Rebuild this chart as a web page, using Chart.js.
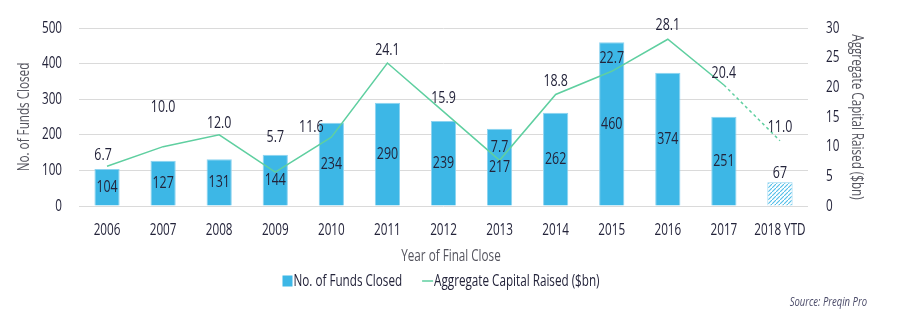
<!DOCTYPE html>
<html>
<head>
<meta charset="utf-8">
<script src="https://cdn.jsdelivr.net/npm/chart.js@4.4.1/dist/chart.umd.min.js"></script>
<style>
  html, body { margin: 0; padding: 0; background: #fff; }
</style>
</head>
<body>
<canvas id="myChart" width="901" height="329"></canvas>
<script>
const years = ["2006", "2007", "2008", "2009", "2010", "2011", "2012", "2013", "2014", "2015", "2016", "2017", "2018 YTD"];
const fundsClosed = [104, 127, 131, 144, 234, 290, 239, 217, 262, 460, 374, 251, 67];
const capitalRaised = [6.7, 10.0, 12.0, 5.7, 11.6, 24.1, 15.9, 7.7, 18.8, 22.7, 28.1, 20.4, 11.0];

const FONT = '"Open Sans", "Noto Sans", sans-serif';
const TEXT = "#23233a";
const TITLE = "#55555f";
const BLUE = "#3db7e6";
const GREEN = "#5fcfa0";

// the original uses a condensed face; squeeze text horizontally
const canvas = document.getElementById("myChart");
const c2 = canvas.getContext("2d");
const SX = 0.73;
const rawFill = c2.fillText.bind(c2);
const rawMeasure = c2.measureText.bind(c2);
c2.fillText = function (t, x, y) {
  this.save();
  this.translate(x, y);
  this.scale(SX, 1);
  rawFill(t, 0, 0);
  this.restore();
};
c2.measureText = function (t) {
  const m = rawMeasure(t);
  return {
    width: m.width * SX,
    actualBoundingBoxAscent: m.actualBoundingBoxAscent,
    actualBoundingBoxDescent: m.actualBoundingBoxDescent,
    actualBoundingBoxLeft: m.actualBoundingBoxLeft * SX,
    actualBoundingBoxRight: m.actualBoundingBoxRight * SX,
  };
};

// hatch for the partial year bar
function hatch() {
  const c = document.createElement("canvas");
  c.width = 4; c.height = 4;
  const g = c.getContext("2d");
  g.fillStyle = "#ffffff";
  g.fillRect(0, 0, 4, 4);
  g.strokeStyle = "#4fbde8";
  g.lineWidth = 1.1;
  g.beginPath();
  g.moveTo(-1, 5); g.lineTo(5, -1);
  g.stroke();
  return g.createPattern(c, "repeat");
}
const hatchPattern = hatch();

// label offsets for the line values
const lineLabelDy = [-11, -40, -12, -35, -10, -13, -14, -13, -13, -13, -14, -12, -14];
const lineLabelDx = [-4, 0, 0, 0, -20, 0, 0, 0, 0, 0, 0, 0, 0];

const valueLabels = {
  id: "valueLabels",
  afterDatasetsDraw(chart) {
    const { ctx } = chart;
    ctx.save();
    ctx.font = "17px " + FONT;
    ctx.fillStyle = TEXT;
    ctx.textAlign = "center";
    ctx.textBaseline = "middle";
    const bars = chart.getDatasetMeta(0).data;
    bars.forEach((bar, i) => {
      let y = (bar.y + bar.base) / 2;
      if (i === bars.length - 1) y = bar.y - 9;
      ctx.fillText(fundsClosed[i], bar.x, y);
    });
    chart.getDatasetMeta(1).data.forEach((pt, i) => {
      ctx.fillText(capitalRaised[i].toFixed(1), pt.x + lineLabelDx[i], pt.y + lineLabelDy[i]);
    });
    ctx.restore();
  },
};

// axis titles, legend and source
const extras = {
  id: "extras",
  afterDraw(chart) {
    const { ctx, chartArea: { top, bottom } } = chart;
    const midY = (top + bottom) / 2;
    ctx.save();
    ctx.textBaseline = "middle";
    ctx.textAlign = "center";
    ctx.font = "16px " + FONT;
    ctx.fillStyle = TITLE;

    ctx.save();
    ctx.translate(24, midY);
    ctx.rotate(-Math.PI / 2);
    ctx.fillText("No. of Funds Closed", 0, 0);
    ctx.restore();

    ctx.save();
    ctx.translate(857, midY);
    ctx.rotate(Math.PI / 2);
    ctx.fillText("Aggregate Capital Raised ($bn)", 0, 0);
    ctx.restore();

    ctx.fillText("Year of Final Close", 451, 256);

    // legend
    ctx.font = "16px " + FONT;
    ctx.fillStyle = TEXT;
    ctx.textAlign = "left";
    const t1 = "No. of Funds Closed";
    const t2 = "Aggregate Capital Raised ($bn)";
    const w1 = ctx.measureText(t1).width;
    const w2 = ctx.measureText(t2).width;
    const total = 11 + w1 + 20 + 12 + w2;
    let x = 441 - total / 2;
    const ly = 281;
    ctx.fillStyle = BLUE;
    ctx.fillRect(x, ly - 5.5, 10, 11);
    ctx.fillStyle = TEXT;
    ctx.fillText(t1, x + 11, ly);
    x += 11 + w1 + 20;
    ctx.strokeStyle = GREEN;
    ctx.lineWidth = 1.5;
    ctx.beginPath();
    ctx.moveTo(x, ly);
    ctx.lineTo(x + 11, ly);
    ctx.stroke();
    ctx.fillText(t2, x + 12, ly);

    // source
    ctx.font = "italic 13px " + FONT;
    ctx.fillStyle = "#4a4a68";
    ctx.textAlign = "right";
    ctx.fillText("Source: Preqin Pro", 867, 302);
    ctx.restore();
  },
};

const config = {
  type: "bar",
  data: {
    labels: years,
    datasets: [
      {
        label: "No. of Funds Closed",
        data: fundsClosed,
        backgroundColor: (ctx) => (ctx.dataIndex === years.length - 1 ? hatchPattern : BLUE),
        borderColor: "#8cd3f0",
        borderWidth: 1,
        yAxisID: "y",
        categoryPercentage: 1,
        barPercentage: 0.45,
        order: 2,
      },
      {
        type: "line",
        label: "Aggregate Capital Raised ($bn)",
        data: capitalRaised,
        borderColor: GREEN,
        backgroundColor: GREEN,
        borderWidth: 1.5,
        pointRadius: 0,
        tension: 0,
        yAxisID: "y1",
        order: 1,
        segment: {
          borderDash: (ctx) => (ctx.p1DataIndex === years.length - 1 ? [3, 3] : undefined),
        },
      },
    ],
  },
  options: {
    responsive: false,
    animation: false,
    layout: { padding: { top: 28, left: 0, right: 0, bottom: 0 } },
    scales: {
      x: {
        grid: { display: false },
        border: { display: false },
        ticks: { color: TEXT, font: { family: FONT, size: 16 }, padding: 7, maxRotation: 0, autoSkip: false },
        afterFit: (s) => { s.height = 123; },
      },
      y: {
        min: 0,
        max: 500,
        ticks: { stepSize: 100, color: TEXT, font: { family: FONT, size: 16 }, padding: 17 },
        grid: { color: "#dadada", drawTicks: false },
        border: { display: false },
        afterFit: (s) => { s.width = 79; },
      },
      y1: {
        position: "right",
        min: 0,
        max: 30,
        ticks: { stepSize: 5, color: TEXT, font: { family: FONT, size: 16 }, padding: 18 },
        grid: { display: false, drawTicks: false },
        border: { display: false },
        afterFit: (s) => { s.width = 93; },
      },
    },
    plugins: {
      legend: { display: false },
      tooltip: { enabled: false },
    },
  },
  plugins: [valueLabels, extras],
};

const myChart = new Chart(canvas, config);
</script>
</body>
</html>
